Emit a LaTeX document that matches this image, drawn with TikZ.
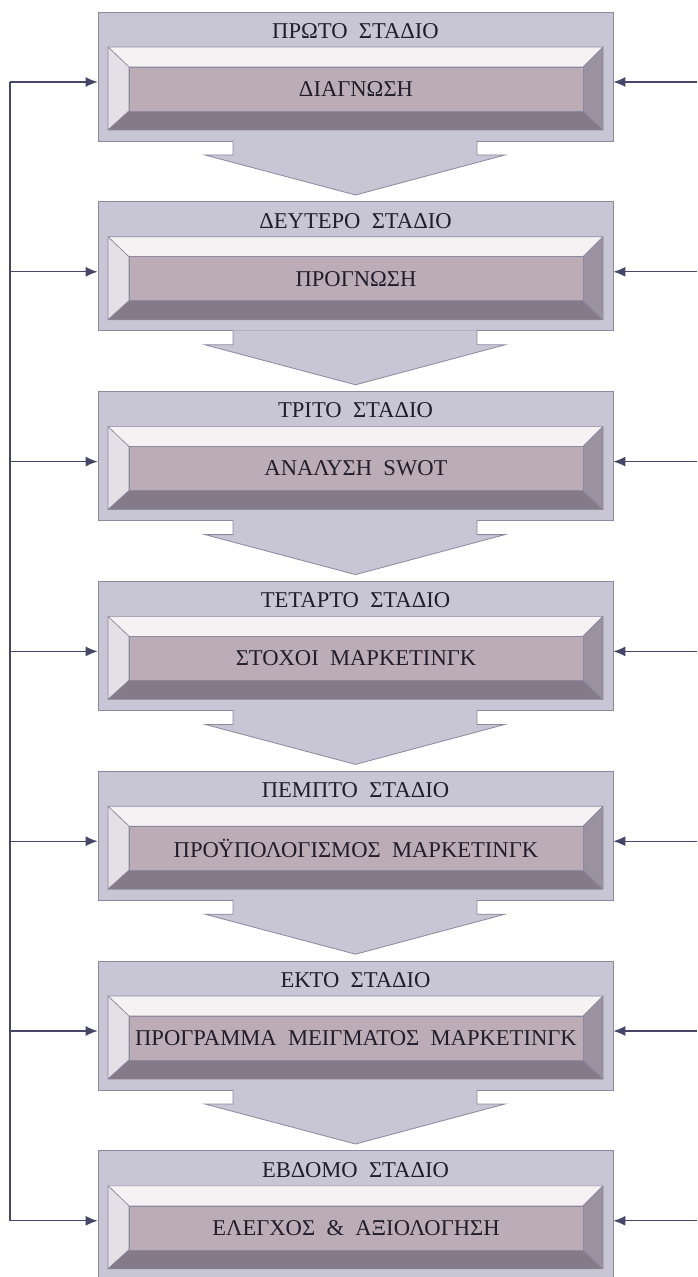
\documentclass[tikz,border=0pt]{standalone}
\usepackage{fontspec}
\setmainfont{Liberation Serif}
\usetikzlibrary{arrows.meta}
\usetikzlibrary{calc}
\definecolor{framegray}{RGB}{200,198,212}
\definecolor{facemauve}{RGB}{188,172,182}
\definecolor{bevlight}{RGB}{246,242,244}
\definecolor{bevside}{RGB}{228,224,230}
\definecolor{bevdark}{RGB}{132,122,136}
\definecolor{bevmid}{RGB}{154,146,160}
\definecolor{edgegray}{RGB}{140,136,160}
\definecolor{inkblue}{RGB}{32,30,44}
\definecolor{wireblue}{RGB}{70,70,104}
\newcommand\stagefont{\fontsize{11.3}{13}\selectfont\spaceskip=0.5em plus 0.1em\relax}

\begin{document}
\begin{tikzpicture}[x=0.5pt,y=-0.5pt]
  \tikzset{stagebox/.style={rectangle,fill=framegray,draw=edgegray,line width=0.4pt,minimum width=257.5pt,minimum height=64.5pt,inner sep=0pt}}
  \tikzset{stageface/.style={rectangle,fill=facemauve,draw=edgegray,line width=0.3pt,minimum width=227pt,minimum height=22pt,inner sep=0pt,text=inkblue,font=\stagefont}}
  \tikzset{stagetitle/.style={inner sep=0pt,text=inkblue,font=\stagefont}}
  \tikzset{bevel/.style={draw=edgegray,line width=0.3pt,line join=round}}
  \tikzset{flowarrow/.style={fill=framegray,draw=edgegray,line width=0.4pt}}
  \tikzset{feed/.style={draw=wireblue,line width=0.6pt}}
  \tikzset{feedarrow/.style={feed,-{Latex[length=6pt,width=5pt]}}}

  \useasboundingbox (0,0) rectangle (697,1277);
  \fill[white] (0,0) rectangle (697,1277);

  \foreach \ttl/\txt [count=\i from 0] in {
      ΠΡΩΤΟ ΣΤΑΔΙΟ/ΔΙΑΓΝΩΣΗ,
      ΔΕΥΤΕΡΟ ΣΤΑΔΙΟ/ΠΡΟΓΝΩΣΗ,
      ΤΡΙΤΟ ΣΤΑΔΙΟ/ΑΝΑΛΥΣΗ SWOT,
      ΤΕΤΑΡΤΟ ΣΤΑΔΙΟ/ΣΤΟΧΟΙ ΜΑΡΚΕΤΙΝΓΚ,
      ΠΕΜΠΤΟ ΣΤΑΔΙΟ/ΠΡΟΫΠΟΛΟΓΙΣΜΟΣ ΜΑΡΚΕΤΙΝΓΚ,
      ΕΚΤΟ ΣΤΑΔΙΟ/ΠΡΟΓΡΑΜΜΑ ΜΕΙΓΜΑΤΟΣ ΜΑΡΚΕΤΙΝΓΚ,
      ΕΒΔΟΜΟ ΣΤΑΔΙΟ/ΕΛΕΓΧΟΣ \& ΑΞΙΟΛΟΓΗΣΗ} {
    \pgfmathsetmacro{\A}{82+189.8*\i}
    \node[stagebox] (s\i) at (355.5,\A-5.5) {};
    % bevelled frame round the face
    \filldraw[bevel,fill=bevlight] (108,\A-35) -- (603,\A-35) -- (583,\A-15) -- (129,\A-15) -- cycle;
    \filldraw[bevel,fill=bevside] (108,\A-35) -- (129,\A-15) -- (129,\A+29) -- (108,\A+48) -- cycle;
    \filldraw[bevel,fill=bevdark] (108,\A+48) -- (129,\A+29) -- (583,\A+29) -- (603,\A+48) -- cycle;
    \filldraw[bevel,fill=bevmid] (603,\A-35) -- (603,\A+48) -- (583,\A+29) -- (583,\A-15) -- cycle;
    \node[stageface] (f\i) at (356,\A+7) {\txt};
    \node[stagetitle] (t\i) at (355.5,\A-51) {\ttl};
    % block arrow down to the next stage
    \ifnum\i<6
      \filldraw[flowarrow] (233,\A+58.5) -- (233,\A+73) -- (205,\A+73) -- (355.5,\A+113)
        -- (505,\A+73) -- (477,\A+73) -- (477,\A+58.5);
    \fi
    \coordinate (l\i) at (10,\A);
    \coordinate (r\i) at (697,\A);
    \draw[feedarrow] (l\i) -- (l\i -| s\i.west);
    \draw[feedarrow] (r\i) -- (r\i -| s\i.east);
  }
  \draw[feed] (l0) -- (l6);
\end{tikzpicture}
\end{document}
